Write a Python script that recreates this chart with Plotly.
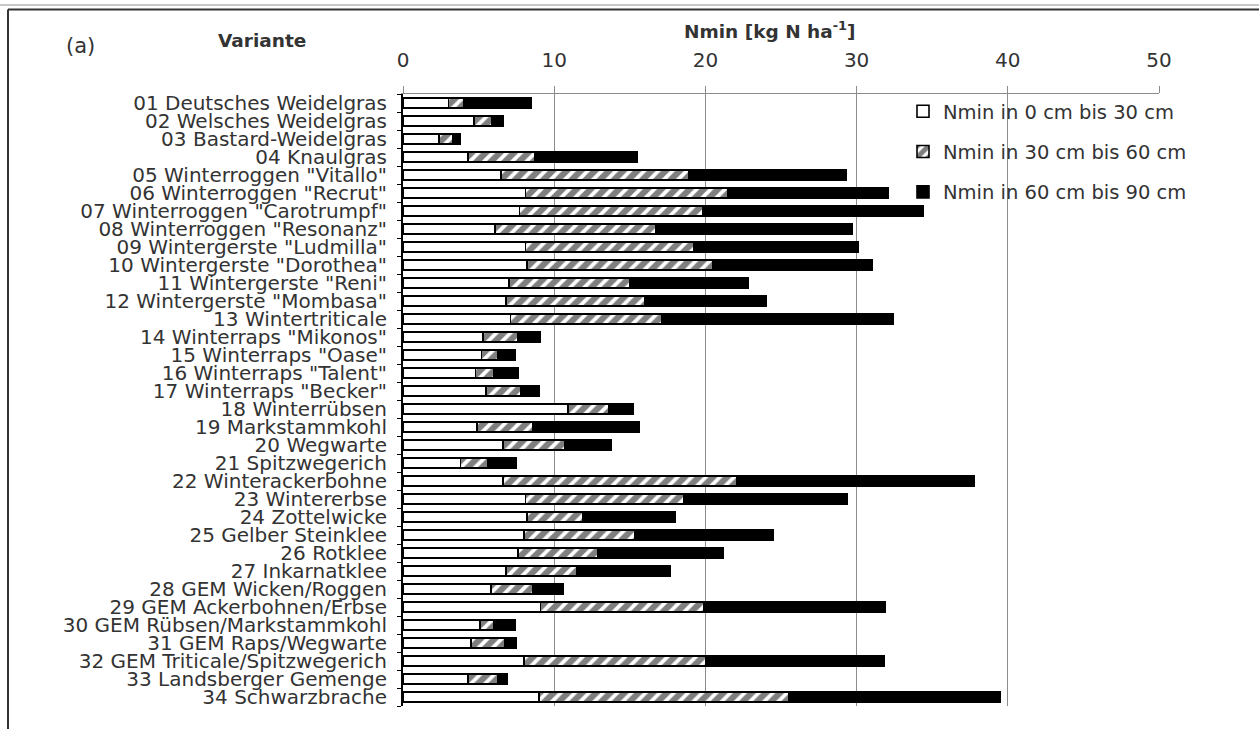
import plotly.graph_objects as go

varianten = [
    '01 Deutsches Weidelgras', '02 Welsches Weidelgras', '03 Bastard-Weidelgras', '04 Knaulgras',
    '05 Winterroggen "Vitallo"', '06 Winterroggen "Recrut"', '07 Winterroggen "Carotrumpf"',
    '08 Winterroggen "Resonanz"', '09 Wintergerste "Ludmilla"', '10 Wintergerste "Dorothea"',
    '11 Wintergerste "Reni"', '12 Wintergerste "Mombasa"', '13 Wintertriticale',
    '14 Winterraps "Mikonos"', '15 Winterraps "Oase"', '16 Winterraps "Talent"', '17 Winterraps "Becker"',
    '18 Winterrübsen', '19 Markstammkohl', '20 Wegwarte', '21 Spitzwegerich', '22 Winterackerbohne',
    '23 Wintererbse', '24 Zottelwicke', '25 Gelber Steinklee', '26 Rotklee', '27 Inkarnatklee',
    '28 GEM Wicken/Roggen', '29 GEM Ackerbohnen/Erbse', '30 GEM Rübsen/Markstammkohl',
    '31 GEM Raps/Wegwarte', '32 GEM Triticale/Spitzwegerich', '33 Landsberger Gemenge', '34 Schwarzbrache',
]
nmin_0_30 = [3.0, 4.7, 2.4, 4.3, 6.5, 8.1, 7.7, 6.1, 8.1, 8.2, 7.0, 6.8, 7.1, 5.3, 5.2, 4.8, 5.5,
             10.9, 4.9, 6.6, 3.8, 6.6, 8.1, 8.2, 8.0, 7.6, 6.8, 5.8, 9.1, 5.1, 4.5, 8.0, 4.3, 9.0]
nmin_30_60 = [1.0, 1.2, 0.9, 4.4, 12.4, 13.4, 12.1, 10.6, 11.1, 12.3, 8.0, 9.2, 10.0, 2.3, 1.1, 1.2, 2.3,
              2.7, 3.7, 4.1, 1.8, 15.5, 10.5, 3.7, 7.3, 5.3, 4.7, 2.8, 10.8, 0.9, 2.2, 12.0, 2.0, 16.5]
nmin_60_90 = [4.5, 0.7, 0.5, 6.8, 10.4, 10.6, 14.6, 13.0, 10.9, 10.5, 7.8, 8.0, 15.3, 1.5, 1.1, 1.6, 1.2,
              1.6, 7.0, 3.1, 1.9, 15.7, 10.8, 6.1, 9.2, 8.3, 6.2, 2.0, 12.0, 1.4, 0.8, 11.8, 0.6, 14.0]
x_ticks = [0, 10, 20, 30, 40, 50]

FONT = "DejaVu Sans"
TXT = "#333333"

fig = go.Figure()
fig.add_trace(go.Bar(
    y=varianten, x=nmin_0_30, orientation="h", name="Nmin in 0 cm bis 30 cm",
    legendgroup="a", width=0.56,
    marker=dict(color="white", line=dict(color="black", width=1.6)),
))
fig.add_trace(go.Bar(
    y=varianten, x=nmin_30_60, orientation="h", name="Nmin in 30 cm bis 60 cm",
    legendgroup="b", width=0.56,
    marker=dict(color="white", line=dict(color="black", width=1.6),
                pattern=dict(shape="/", fgcolor="black", bgcolor="white", size=10, solidity=0.62)),
))
fig.add_trace(go.Bar(
    y=varianten, x=nmin_60_90, orientation="h", name="Nmin in 60 cm bis 90 cm",
    legendgroup="c", width=0.56,
    marker=dict(color="black", line=dict(color="black", width=1.6)),
))

L, R, T, B = 403, 100, 94, 23
W, H = 1259, 729
pw, ph = W - L - R, H - T - B

def px(x):
    return (x - L) / pw

def py(y):
    return (H - B - y) / ph

fig.update_layout(
    width=W, height=H, barmode="stack",
    margin=dict(l=L, r=R, t=T, b=B),
    paper_bgcolor="white", plot_bgcolor="white",
    font=dict(family=FONT, color=TXT, size=18),
    legend=dict(x=px(903), y=py(92), xanchor="left", yanchor="top",
                bgcolor="rgba(0,0,0,0)", font=dict(size=19.5, family=FONT, color=TXT),
                tracegroupgap=12, itemwidth=30),
    xaxis=dict(side="top", range=[0, 50], tickmode="array", tickvals=x_ticks,
               ticktext=[str(v) for v in x_ticks],
               showgrid=True, gridcolor="#8c8c8c", gridwidth=1,
               showline=True, linecolor="#8c8c8c", linewidth=1,
               ticks="outside", ticklen=7, tickcolor="#8c8c8c",
               ticklabelstandoff=11, tickfont=dict(size=20, family=FONT, color=TXT),
               zeroline=False, fixedrange=True),
    yaxis=dict(type="category", categoryorder="array", categoryarray=varianten,
               tickmode="array", tickvals=varianten, ticktext=varianten,
               autorange="reversed", showline=True, linecolor="black", linewidth=2,
               ticks="outside", ticklen=4, tickcolor="black", tickson="boundaries",
               ticklabelstandoff=10,
               tickfont=dict(size=20, family=FONT, color=TXT), showgrid=False, fixedrange=True),
)

fig.add_annotation(text="<b>Nmin [kg N ha<sup>-1</sup>]</b>", xref="paper", yref="paper",
                   x=px(770), y=py(30), xanchor="center", yanchor="middle", showarrow=False,
                   font=dict(size=18.5, family=FONT, color=TXT))
fig.add_annotation(text="<b>Variante</b>", xref="paper", yref="paper",
                   x=px(262), y=py(40), xanchor="center", yanchor="middle", showarrow=False,
                   font=dict(size=18.5, family=FONT, color=TXT))
fig.add_annotation(text="(a)", xref="paper", yref="paper",
                   x=px(80), y=py(46), xanchor="center", yanchor="middle", showarrow=False,
                   font=dict(size=21, family=FONT, color=TXT))

# frame lines of the original figure box
fig.add_shape(type="line", xref="paper", yref="paper", x0=px(0), x1=px(W), y0=py(5), y1=py(5),
              line=dict(color="#c8c8c8", width=2))
fig.add_shape(type="line", xref="paper", yref="paper", x0=px(8), x1=px(W), y0=py(9.5), y1=py(9.5),
              line=dict(color="#333333", width=2))
fig.add_shape(type="line", xref="paper", yref="paper", x0=px(8), x1=px(8), y0=py(9.5), y1=py(H),
              line=dict(color="#333333", width=2))

fig.write_html("out.html")
